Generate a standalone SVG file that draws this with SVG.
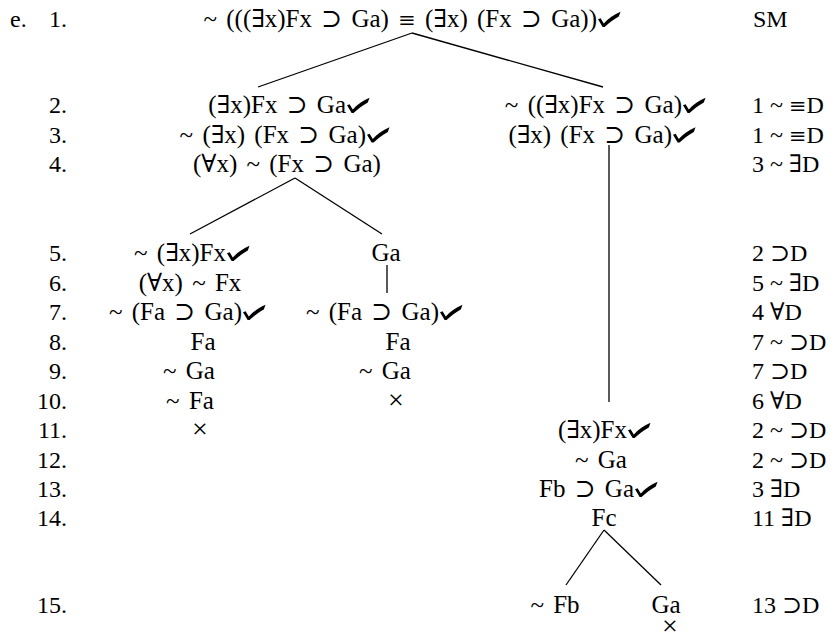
<svg xmlns="http://www.w3.org/2000/svg" width="836" height="641" viewBox="0 0 836 641">
<style>
text{font-family:"Liberation Serif","DejaVu Serif",serif;font-size:24px;fill:#000}
.f{font-size:25px;word-spacing:3px}
.n{text-anchor:end}
.m{text-anchor:middle}
.e{text-anchor:end}
.x{font-size:28px;text-anchor:middle}
.q{font-family:"DejaVu Serif",serif;font-size:21px}
.c line{stroke:#000;stroke-width:1.3}
</style>
<defs>
<path id="chk" d="M0,-7.8 L2.6,-8.8 L5.8,-3.6 C10.2,-8 15.2,-12.2 22.5,-15.2 L20.8,-10.6 C15,-7.4 10.8,-3.8 6.6,0 L4.6,0 Z" fill="#000"/>
</defs>
<rect width="836" height="641" fill="#fff"/>
<g id="rownums">
<text x="10" y="27">e.</text>
<text class="n" x="67" y="27">1.</text>
<text class="n" x="67" y="113">2.</text>
<text class="n" x="67" y="142.5">3.</text>
<text class="n" x="67" y="172">4.</text>
<text class="n" x="67" y="261">5.</text>
<text class="n" x="67" y="290.5">6.</text>
<text class="n" x="67" y="320">7.</text>
<text class="n" x="67" y="349.5">8.</text>
<text class="n" x="67" y="379">9.</text>
<text class="n" x="67" y="408.5">10.</text>
<text class="n" x="67" y="438">11.</text>
<text class="n" x="67" y="467.5">12.</text>
<text class="n" x="67" y="497">13.</text>
<text class="n" x="67" y="526">14.</text>
<text class="n" x="67" y="613">15.</text>
</g>
<g id="just">
<text x="753" y="27">SM</text>
<text x="752" y="113">1 ~ <tspan class="q">≡</tspan>D</text>
<text x="752" y="142.5">1 ~ <tspan class="q">≡</tspan>D</text>
<text x="752" y="172">3 ~ ∃D</text>
<text x="752" y="261">2 ⊃D</text>
<text x="752" y="290.5">5 ~ ∃D</text>
<text x="752" y="320">4 ∀D</text>
<text x="752" y="349.5">7 ~ ⊃D</text>
<text x="752" y="379">7 ⊃D</text>
<text x="752" y="408.5">6 ∀D</text>
<text x="752" y="438">2 ~ ⊃D</text>
<text x="752" y="467.5">2 ~ ⊃D</text>
<text x="752" y="497">3 ∃D</text>
<text x="752" y="526">11 ∃D</text>
<text x="752" y="613">13 ⊃D</text>
</g>
<g id="n1"><text class="f e" x="597" y="27">~ (((∃x)Fx ⊃ Ga) <tspan class="q">≡</tspan> (∃x) (Fx ⊃ Ga))</text><use href="#chk" x="598" y="27"/></g>
<g id="n2L"><text class="f e" x="346" y="113">(∃x)Fx ⊃ Ga</text><use href="#chk" x="347" y="113"/></g>
<g id="n3L"><text class="f e" x="366" y="142.5">~ (∃x) (Fx ⊃ Ga)</text><use href="#chk" x="367" y="142.5"/></g>
<g id="n4L"><text class="f m" x="287" y="172">(∀x) ~ (Fx ⊃ Ga)</text></g>
<g id="n2R"><text class="f e" x="682" y="113">~ ((∃x)Fx ⊃ Ga)</text><use href="#chk" x="683" y="113"/></g>
<g id="n3R"><text class="f e" x="672" y="142.5">(∃x) (Fx ⊃ Ga)</text><use href="#chk" x="673" y="142.5"/></g>
<g id="n5L"><text class="f e" x="226" y="261">~ (∃x)Fx</text><use href="#chk" x="227" y="261"/></g>
<g id="n6L"><text class="f m" x="190" y="290.5">(∀x) ~ Fx</text></g>
<g id="n7L"><text class="f e" x="242" y="320">~ (Fa ⊃ Ga)</text><use href="#chk" x="243" y="320"/></g>
<g id="n8L"><text class="f m" x="203" y="349.5">Fa</text></g>
<g id="n9L"><text class="f m" x="189" y="379">~ Ga</text></g>
<g id="n10L"><text class="f m" x="190" y="408.5">~ Fa</text></g>
<g id="n11L"><text class="x" x="200" y="438">×</text></g>
<g id="n5M"><text class="f m" x="386" y="261">Ga</text></g>
<g id="n7M"><text class="f e" x="439" y="320">~ (Fa ⊃ Ga)</text><use href="#chk" x="440" y="320"/></g>
<g id="n8M"><text class="f m" x="398" y="349.5">Fa</text></g>
<g id="n9M"><text class="f m" x="385" y="379">~ Ga</text></g>
<g id="n10M"><text class="x" x="396" y="408.5">×</text></g>
<g id="n11R"><text class="f e" x="627" y="438">(∃x)Fx</text><use href="#chk" x="628" y="438"/></g>
<g id="n12R"><text class="f m" x="601" y="467.5">~ Ga</text></g>
<g id="n13R"><text class="f e" x="634" y="497">Fb ⊃ Ga</text><use href="#chk" x="635" y="497"/></g>
<g id="n14R"><text class="f m" x="604" y="526">Fc</text></g>
<g id="n15a"><text class="f m" x="555" y="613">~ Fb</text></g>
<g id="n15b"><text class="f m" x="666" y="613">Ga</text></g>
<g id="n16b"><text class="x" x="670" y="635">×</text></g>
<g class="c" id="connectors">
<line x1="412" y1="33" x2="258" y2="87"/>
<line x1="412" y1="33" x2="603" y2="87"/>
<line x1="609" y1="145" x2="609" y2="402"/>
<line x1="295" y1="178" x2="190" y2="234"/>
<line x1="295" y1="178" x2="382" y2="234"/>
<line x1="387" y1="265" x2="387" y2="293"/>
<line x1="604" y1="530" x2="566" y2="585"/>
<line x1="604" y1="530" x2="661" y2="585"/>
</g>
</svg>
